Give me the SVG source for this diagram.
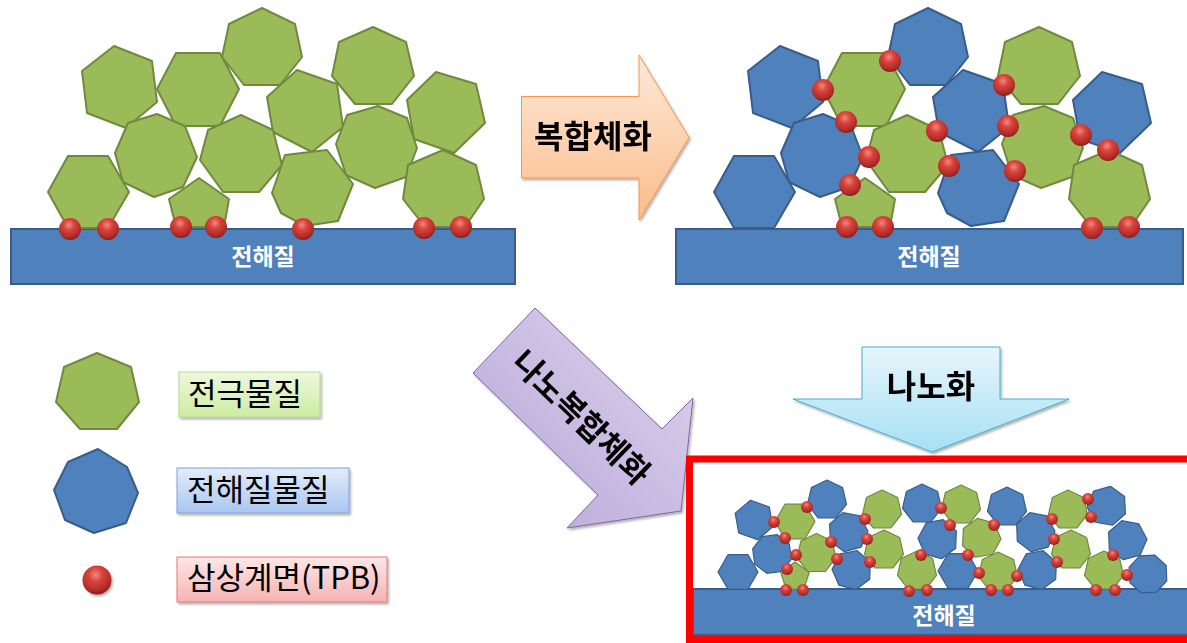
<svg xmlns="http://www.w3.org/2000/svg" xmlns:xlink="http://www.w3.org/1999/xlink" width="1187" height="643" viewBox="0 0 1187 643">
  <style>
    .g { fill: #9bbb59; stroke: #71893f; stroke-width: 2; stroke-linejoin: round; }
    .b { fill: #4f81bd; stroke: #385d8a; stroke-width: 2; stroke-linejoin: round; }
    .gs { fill: #9bbb59; stroke: #71893f; stroke-width: 1.2; stroke-linejoin: round; }
    .bs { fill: #4f81bd; stroke: #385d8a; stroke-width: 1.2; stroke-linejoin: round; }
    .sub { fill: #4f81bd; stroke: #385d8a; stroke-width: 2; }
    .dot { fill: url(#ball); }
    .subtxt { font-family: "Noto Sans CJK KR", "Noto Sans", sans-serif; font-weight: bold; fill: #ffffff; text-anchor: middle; }
    .arrtxt { font-family: "Noto Sans CJK KR", "Noto Sans", sans-serif; font-weight: bold; fill: #000000; text-anchor: middle; font-size: 32px; }
    .legtxt { font-family: "Noto Sans CJK KR", "Noto Sans", sans-serif; fill: #000000; font-size: 31px; }
  </style>
  <defs>
    <radialGradient id="ball" cx="0.45" cy="0.32" r="0.7">
      <stop offset="0" stop-color="#f08a80"/>
      <stop offset="0.35" stop-color="#d9443c"/>
      <stop offset="0.8" stop-color="#b02a26"/>
      <stop offset="1" stop-color="#7e1b19"/>
    </radialGradient>
    <linearGradient id="gOrange" x1="0" y1="0" x2="0" y2="1">
      <stop offset="0" stop-color="#fde9d9"/>
      <stop offset="1" stop-color="#fbbd8a"/>
    </linearGradient>
    <linearGradient id="gPurple" x1="1" y1="0" x2="0" y2="1">
      <stop offset="0" stop-color="#ddd4ec"/>
      <stop offset="1" stop-color="#b8a5d8"/>
    </linearGradient>
    <linearGradient id="gCyan" x1="0" y1="0" x2="0" y2="1">
      <stop offset="0" stop-color="#e6f5fb"/>
      <stop offset="1" stop-color="#a6e0f5"/>
    </linearGradient>
    <linearGradient id="gLegG" x1="0" y1="0" x2="0" y2="1">
      <stop offset="0" stop-color="#eef8de"/>
      <stop offset="1" stop-color="#cdeca2"/>
    </linearGradient>
    <linearGradient id="gLegB" x1="0" y1="0" x2="0" y2="1">
      <stop offset="0" stop-color="#e3ecf9"/>
      <stop offset="1" stop-color="#a9c6f0"/>
    </linearGradient>
    <linearGradient id="gLegR" x1="0" y1="0" x2="0" y2="1">
      <stop offset="0" stop-color="#ffe6e6"/>
      <stop offset="1" stop-color="#f6b3b3"/>
    </linearGradient>
    <filter id="shadow" x="-10%" y="-10%" width="130%" height="130%">
      <feDropShadow dx="1.5" dy="2" stdDeviation="1.2" flood-color="#000" flood-opacity="0.3"/>
    </filter>

    <!-- particle outlines of the large cluster -->
    <polygon id="c1" points="114,46 152,61 157,102 126,128 87,113 82,71"/>
    <polygon id="c2" points="176,53 220,53 239,89 220,126 176,126 157,89"/>
    <polygon id="c3" points="262,8 295,24 302,57 280,85 244,85 222,57 229,24"/>
    <polygon id="c4" points="297,70 337,84 343,127 312,152 273,132 267,97"/>
    <polygon id="c5" points="373,27 406,42 414,76 392,104 355,104 332,76 339,42"/>
    <polygon id="c6" points="436,72 476,84 485,123 454,153 414,139 407,100"/>
    <polygon id="c7" points="157,114 185,126 197,157 183,187 154,197 123,182 115,153 128,123"/>
    <polygon id="c8" points="241,115 273,130 282,165 259,192 223,192 200,160 208,130"/>
    <polygon id="c9" points="68,156 108,156 129,192 108,228 68,228 48,192"/>
    <polygon id="c10" points="199,178 229,199 224,227 176,227 169,199"/>
    <polygon id="c11" points="285,155 327,150 353,184 338,221 305,226 281,213 272,193"/>
    <polygon id="c12" points="378,106 407,118 417,148 406,177 375,188 346,175 336,144 347,115"/>
    <polygon id="c13" points="443,150 476,165 484,199 465,227 425,227 403,199 408,165"/>

    <!-- unit shapes for the nano cluster -->
    <polygon id="h7" points="0,-20 15.64,-12.47 19.5,4.45 8.68,18.02 -8.68,18.02 -19.5,4.45 -15.64,-12.47"/>
    <polygon id="h6" points="20,0 10,17.32 -10,17.32 -20,0 -10,-17.32 10,-17.32"/>
    <polygon id="h8" points="0,-20 14.14,-14.14 20,0 14.14,14.14 0,20 -14.14,14.14 -20,0 -14.14,-14.14"/>
    <polygon id="h5" points="0,-15 14.27,-4.64 8.82,12.14 -8.82,12.14 -14.27,-4.64"/>
  </defs>

  <rect width="1187" height="643" fill="#ffffff"/>

  <!-- electrode particles on the electrolyte -->
  <g id="panel-electrode">
    <rect class="sub" x="11" y="229" width="504" height="55"/>
    <text class="subtxt" x="263" y="265" font-size="23">전해질</text>
    <use href="#c1" class="g"/>
    <use href="#c2" class="g"/>
    <use href="#c3" class="g"/>
    <use href="#c5" class="g"/>
    <use href="#c4" class="g"/>
    <use href="#c6" class="g"/>
    <use href="#c7" class="g"/>
    <use href="#c8" class="g"/>
    <use href="#c12" class="g"/>
    <use href="#c9" class="g"/>
    <use href="#c10" class="g"/>
    <use href="#c11" class="g"/>
    <use href="#c13" class="g"/>
    <circle class="dot" cx="70" cy="229" r="11"/>
    <circle class="dot" cx="108" cy="229" r="11"/>
    <circle class="dot" cx="181" cy="227" r="11"/>
    <circle class="dot" cx="216" cy="227" r="11"/>
    <circle class="dot" cx="303" cy="229" r="11"/>
    <circle class="dot" cx="424" cy="228" r="11"/>
    <circle class="dot" cx="461" cy="227" r="11"/>
  </g>

  <!-- composite electrode -->
  <g id="panel-composite">
    <rect class="sub" x="676" y="229" width="507" height="55"/>
    <text class="subtxt" x="929" y="265" font-size="23">전해질</text>
    <g transform="translate(666,0)">
      <use href="#c1" class="b"/>
      <use href="#c2" class="g"/>
      <use href="#c3" class="b"/>
      <use href="#c5" class="g"/>
      <use href="#c4" class="b"/>
      <use href="#c6" class="b"/>
      <use href="#c7" class="b"/>
      <use href="#c8" class="g"/>
      <use href="#c12" class="g"/>
      <use href="#c9" class="b"/>
      <use href="#c10" class="g"/>
      <use href="#c11" class="b"/>
      <use href="#c13" class="g"/>
    </g>
    <circle class="dot" cx="890" cy="61" r="11"/>
    <circle class="dot" cx="823" cy="90" r="11"/>
    <circle class="dot" cx="846" cy="122" r="11"/>
    <circle class="dot" cx="937" cy="131" r="11"/>
    <circle class="dot" cx="869" cy="157" r="11"/>
    <circle class="dot" cx="949" cy="166" r="11"/>
    <circle class="dot" cx="850" cy="185" r="11"/>
    <circle class="dot" cx="1004" cy="85" r="11"/>
    <circle class="dot" cx="1008" cy="126" r="11"/>
    <circle class="dot" cx="1015" cy="171" r="11"/>
    <circle class="dot" cx="1081" cy="135" r="11"/>
    <circle class="dot" cx="1108" cy="150" r="11"/>
    <circle class="dot" cx="847" cy="227" r="11"/>
    <circle class="dot" cx="883" cy="227" r="11"/>
    <circle class="dot" cx="1092" cy="228" r="11"/>
    <circle class="dot" cx="1129" cy="227" r="11"/>
  </g>

  <!-- process arrows -->
  <g id="connectors">
    <g id="arrow-composite" filter="url(#shadow)">
      <path d="M521.5,96.5 L639,96.5 L639,55 L689,137.5 L639,220 L639,178 L521.5,178 Z" fill="url(#gOrange)" stroke="#f79646" stroke-width="1"/>
      <text class="arrtxt" x="593" y="148">복합체화</text>
    </g>
    <g id="arrow-nanocomposite" filter="url(#shadow)">
      <path d="M473,373 L535,308 L662,429 L693,398 L681,511 L567,528 L598,495 Z" fill="url(#gPurple)" stroke="#8064a2" stroke-width="1"/>
      <text class="arrtxt" font-size="30" transform="translate(581,418) rotate(44)" y="11">나노복합체화</text>
    </g>
    <g id="arrow-nano" filter="url(#shadow)">
      <path d="M862,347 L1000,347 L1000,399 L1069,399 L932,452 L793,399 L862,399 Z" fill="url(#gCyan)" stroke="#4bacc6" stroke-width="1"/>
      <text class="arrtxt" x="931" y="398">나노화</text>
    </g>
  </g>

  <!-- nano-sized composite electrode -->
  <g id="panel-nano">
    <rect class="sub" x="693" y="589" width="500" height="46"/>
    <text class="subtxt" x="944" y="624" font-size="23">전해질</text>
    <use href="#h6" class="bs" transform="translate(738,572)"/>
    <use href="#h6" class="bs" transform="translate(754,520) rotate(20)"/>
    <use href="#h7" class="bs" transform="translate(827,500)"/>
    <use href="#h8" class="bs" transform="translate(772,554) rotate(15)"/>
    <use href="#h7" class="bs" transform="translate(848,532) rotate(-15)"/>
    <use href="#h7" class="bs" transform="translate(852,570) rotate(15)"/>
    <use href="#h7" class="bs" transform="translate(922,504)"/>
    <use href="#h7" class="bs" transform="translate(938,539) rotate(15)"/>
    <use href="#h6" class="bs" transform="translate(958,571)"/>
    <use href="#h7" class="bs" transform="translate(1007,507)"/>
    <use href="#h7" class="bs" transform="translate(1035,532) rotate(-15)"/>
    <use href="#h7" class="bs" transform="translate(1038,570) rotate(15)"/>
    <use href="#h7" class="bs" transform="translate(1107,506) rotate(10)"/>
    <use href="#h7" class="bs" transform="translate(1127,540) rotate(-15)"/>
    <use href="#h8" class="bs" transform="translate(1148,574) rotate(20)"/>
    <use href="#h6" class="gs" transform="translate(795,521.5)"/>
    <use href="#h7" class="gs" transform="translate(816.5,553.5)"/>
    <use href="#h5" class="gs" transform="translate(795,577)"/>
    <use href="#h7" class="gs" transform="translate(882,510)"/>
    <use href="#h7" class="gs" transform="translate(884,550)"/>
    <use href="#h7" class="gs" transform="translate(917,571)"/>
    <use href="#h7" class="gs" transform="translate(961,505)"/>
    <use href="#h7" class="gs" transform="translate(981,538) rotate(-10)"/>
    <use href="#h7" class="gs" transform="translate(998,572)"/>
    <use href="#h7" class="gs" transform="translate(1068,510)"/>
    <use href="#h7" class="gs" transform="translate(1071,550)"/>
    <use href="#h7" class="gs" transform="translate(1104,571)"/>
    <circle class="dot" cx="807" cy="507" r="6"/>
    <circle class="dot" cx="774" cy="522" r="6"/>
    <circle class="dot" cx="785" cy="538" r="6"/>
    <circle class="dot" cx="796" cy="555" r="6"/>
    <circle class="dot" cx="787" cy="569" r="6"/>
    <circle class="dot" cx="786" cy="590" r="6"/>
    <circle class="dot" cx="803" cy="590" r="6"/>
    <circle class="dot" cx="831" cy="542" r="6"/>
    <circle class="dot" cx="837" cy="559" r="6"/>
    <circle class="dot" cx="865" cy="519" r="6"/>
    <circle class="dot" cx="867" cy="539" r="6"/>
    <circle class="dot" cx="870" cy="562" r="6"/>
    <circle class="dot" cx="921" cy="555" r="6"/>
    <circle class="dot" cx="909" cy="591" r="6"/>
    <circle class="dot" cx="927" cy="590" r="6"/>
    <circle class="dot" cx="941" cy="508" r="6"/>
    <circle class="dot" cx="950" cy="525" r="6"/>
    <circle class="dot" cx="994" cy="525" r="6"/>
    <circle class="dot" cx="968" cy="555" r="6"/>
    <circle class="dot" cx="979" cy="573" r="6"/>
    <circle class="dot" cx="1017" cy="576" r="6"/>
    <circle class="dot" cx="991" cy="590" r="6"/>
    <circle class="dot" cx="1008" cy="590" r="6"/>
    <circle class="dot" cx="1088" cy="499" r="6"/>
    <circle class="dot" cx="1091" cy="517" r="6"/>
    <circle class="dot" cx="1052" cy="519" r="6"/>
    <circle class="dot" cx="1054" cy="539" r="6"/>
    <circle class="dot" cx="1057" cy="562" r="6"/>
    <circle class="dot" cx="1113" cy="555" r="6"/>
    <circle class="dot" cx="1127" cy="575" r="6"/>
    <circle class="dot" cx="1096" cy="590" r="6"/>
    <circle class="dot" cx="1115" cy="590" r="6"/>
    <rect x="689.5" y="459" width="510" height="180.5" fill="none" stroke="#ff0000" stroke-width="7"/>
  </g>

  <!-- legend -->
  <g id="legend-electrode">
    <polygon class="g" points="97,353 131,367 139,402 117,429 80,429 56,402 64,367"/>
    <rect x="179" y="372" width="141" height="45" fill="url(#gLegG)" stroke="#b5d98e" stroke-width="1" filter="url(#shadow)"/>
    <text class="legtxt" x="188" y="405">전극물질</text>
  </g>
  <g id="legend-electrolyte">
    <polygon class="b" points="98,449 127,467 138,493 126,523 94,533 65,520 54,490 68,462"/>
    <rect x="177" y="468" width="172" height="45" fill="url(#gLegB)" stroke="#7ea3d8" stroke-width="1" filter="url(#shadow)"/>
    <text class="legtxt" x="187" y="501">전해질물질</text>
  </g>
  <g id="legend-tpb">
    <circle class="dot" cx="97" cy="580" r="14.5" filter="url(#shadow)"/>
    <rect x="177" y="557" width="210" height="45" fill="url(#gLegR)" stroke="#e07b7b" stroke-width="1" filter="url(#shadow)"/>
    <text class="legtxt" x="187" y="589">삼상계면(TPB)</text>
  </g>
</svg>
